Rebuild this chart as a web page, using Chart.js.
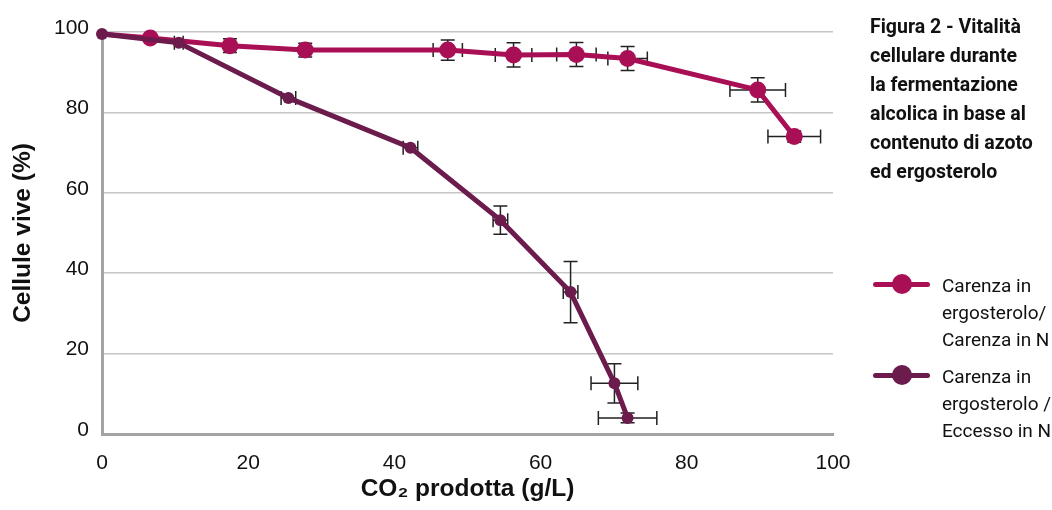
<!DOCTYPE html>
<html lang="it">
<head>
    <meta charset="UTF-8">
    <title>Figura 2 - Vitalità cellulare</title>
    <style>
        body { margin: 0; background: #fff; }
        #wrap { position: relative; width: 1052px; height: 510px; }
        #title {
            position: absolute; left: 870px; top: 12px;
            font: 700 19.5px/29px Roboto, sans-serif; color: #111;
        }
        .entry { position: absolute; left: 873px; }
        .entry .sym { position: absolute; left: 0; width: 57px; height: 5px; border-radius: 3px; }
        .entry .dot { position: absolute; left: 19px; width: 20px; height: 20px; border-radius: 50%; }
        .entry .txt {
            position: absolute; left: 69px; width: 120px;
            font: 400 19px/27px Roboto, sans-serif; color: #111;
        }
    </style>
</head>
<body>
    <div id="wrap">
        <canvas id="myChart" width="1052" height="510"></canvas>
        <div id="title">Figura 2 - Vitalità<br>cellulare durante<br>la fermentazione<br>alcolica in base al<br>contenuto di azoto<br>ed ergosterolo</div>
        <div id="legend"></div>
    </div>

    <script src="https://cdn.jsdelivr.net/npm/chart.js"></script>

    <script>
        // Carenza in ergosterolo / Carenza in N
        let co2A  = [0, 6.6, 17.5, 27.8, 47.3, 56.3, 64.9, 71.9, 89.7, 94.7];
        let vivA  = [99.5, 98.5, 96.6, 95.5, 95.5, 94.3, 94.4, 93.4, 85.6, 74.0];
        let errXA = [0, 0, 0, 0, 2.0, 2.5, 2.7, 2.7, 3.8, 3.6];
        let errYA = [0, 0, 1.7, 1.7, 2.5, 3.0, 3.0, 3.0, 3.0, 1.4];

        // Carenza in ergosterolo / Eccesso in N
        let co2B  = [0, 10.5, 25.5, 42.2, 54.5, 64.1, 70.1, 71.9];
        let vivB  = [99.5, 97.3, 83.6, 71.2, 53.2, 35.3, 12.6, 4.0];
        let errXB = [0, 0.6, 1.0, 1.0, 1.0, 1.0, 3.2, 4.0];
        let errYB = [0, 0, 0, 0, 3.5, 7.6, 4.9, 1.2];

        let seriesNames = [
            ['Carenza in', 'ergosterolo/', 'Carenza in N'],
            ['Carenza in', 'ergosterolo /', 'Eccesso in N']
        ];
        let seriesColors = ['#a80f55', '#6b1b4c'];

        let xTitle = 'CO₂ prodotta (g/L)';
        let yTitle = 'Cellule vive (%)';

        function points(xs, ys, ex, ey) {
            let out = [];
            for (let i = 0; i < xs.length; i++) {
                out.push({x: xs[i], y: ys[i], ex: ex[i], ey: ey[i]});
            }
            return out;
        }

        // barre d'errore disegnate prima delle linee
        const errorBars = {
            id: 'errorBars',
            beforeDatasetsDraw(chart) {
                const {ctx, scales: {x, y}} = chart;
                const cap = 7;
                ctx.save();
                ctx.strokeStyle = '#222';
                ctx.lineWidth = 1.5;
                chart.data.datasets.forEach(ds => {
                    ds.data.forEach(p => {
                        const px = x.getPixelForValue(p.x);
                        const py = y.getPixelForValue(p.y);
                        ctx.beginPath();
                        if (p.ey) {
                            const t = y.getPixelForValue(p.y + p.ey);
                            const b = y.getPixelForValue(p.y - p.ey);
                            ctx.moveTo(px, t); ctx.lineTo(px, b);
                            ctx.moveTo(px - cap, t); ctx.lineTo(px + cap, t);
                            ctx.moveTo(px - cap, b); ctx.lineTo(px + cap, b);
                        }
                        if (p.ex) {
                            const l = x.getPixelForValue(p.x - p.ex);
                            const r = x.getPixelForValue(p.x + p.ex);
                            ctx.moveTo(l, py); ctx.lineTo(r, py);
                            ctx.moveTo(l, py - cap); ctx.lineTo(l, py + cap);
                            ctx.moveTo(r, py - cap); ctx.lineTo(r, py + cap);
                        }
                        ctx.stroke();
                    });
                });
                ctx.restore();
            }
        };

        const ctx = document.getElementById('myChart');

        new Chart(ctx, {
            type: 'scatter',
            data: {
                datasets: [{
                    label: seriesNames[0].join(' '),
                    data: points(co2A, vivA, errXA, errYA),
                    showLine: true,
                    borderColor: seriesColors[0],
                    backgroundColor: seriesColors[0],
                    borderWidth: 5,
                    pointRadius: c => c.dataIndex === 0 ? 0 : 8.5,
                    pointBorderWidth: 0,
                    clip: false,
                    order: 2
                }, {
                    label: seriesNames[1].join(' '),
                    data: points(co2B, vivB, errXB, errYB),
                    showLine: true,
                    borderColor: seriesColors[1],
                    backgroundColor: seriesColors[1],
                    borderWidth: 5,
                    pointRadius: 6,
                    pointBorderWidth: 0,
                    clip: false,
                    order: 1
                }]
            },
            options: {
                responsive: false,
                animation: false,
                events: [],
                layout: { padding: { left: 0, top: 32, right: 219, bottom: 0 } },
                plugins: {
                    legend: { display: false },
                    tooltip: { enabled: false }
                },
                scales: {
                    x: {
                        type: 'linear',
                        min: 0, max: 100,
                        afterFit: s => { s.height = 76; },
                        ticks: {
                            stepSize: 20,
                            padding: 17,
                            color: '#111',
                            font: { family: 'Liberation Sans, Arial, sans-serif', size: 21 }
                        },
                        grid: { display: false, drawTicks: false },
                        border: { display: true, color: '#a3a3a3', width: 3 },
                        title: {
                            display: true,
                            text: xTitle,
                            color: '#111',
                            padding: { bottom: 6 },
                            font: { family: 'Liberation Sans, Arial, sans-serif', size: 24.5, weight: 'bold' }
                        }
                    },
                    y: {
                        min: 0, max: 100,
                        afterFit: s => { s.width = 102; },
                        ticks: {
                            stepSize: 20,
                            padding: 13,
                            labelOffset: -4,
                            color: '#111',
                            font: { family: 'Liberation Sans, Arial, sans-serif', size: 21 }
                        },
                        grid: { color: '#c6c6c6', lineWidth: 1.5, drawTicks: false },
                        border: { display: true, color: '#a3a3a3', width: 3 },
                        title: {
                            display: true,
                            text: yTitle,
                            color: '#111',
                            padding: { top: 9 },
                            font: { family: 'Liberation Sans, Arial, sans-serif', size: 24.5, weight: 'bold' }
                        }
                    }
                }
            },
            plugins: [errorBars]
        });

        // legenda HTML
        let legendTops = [272, 363];
        let html = '';
        for (let i = 0; i < seriesNames.length; i++) {
            html +=
                `<div class="entry" style="top:${legendTops[i]}px">` +
                    `<div class="sym" style="top:9.5px;background:${seriesColors[i]}"></div>` +
                    `<div class="dot" style="top:2px;background:${seriesColors[i]}"></div>` +
                    `<div class="txt" style="top:0">${seriesNames[i].join('<br>')}</div>` +
                `</div>`;
        }
        document.getElementById('legend').innerHTML = html;
    </script>
</body>
</html>
